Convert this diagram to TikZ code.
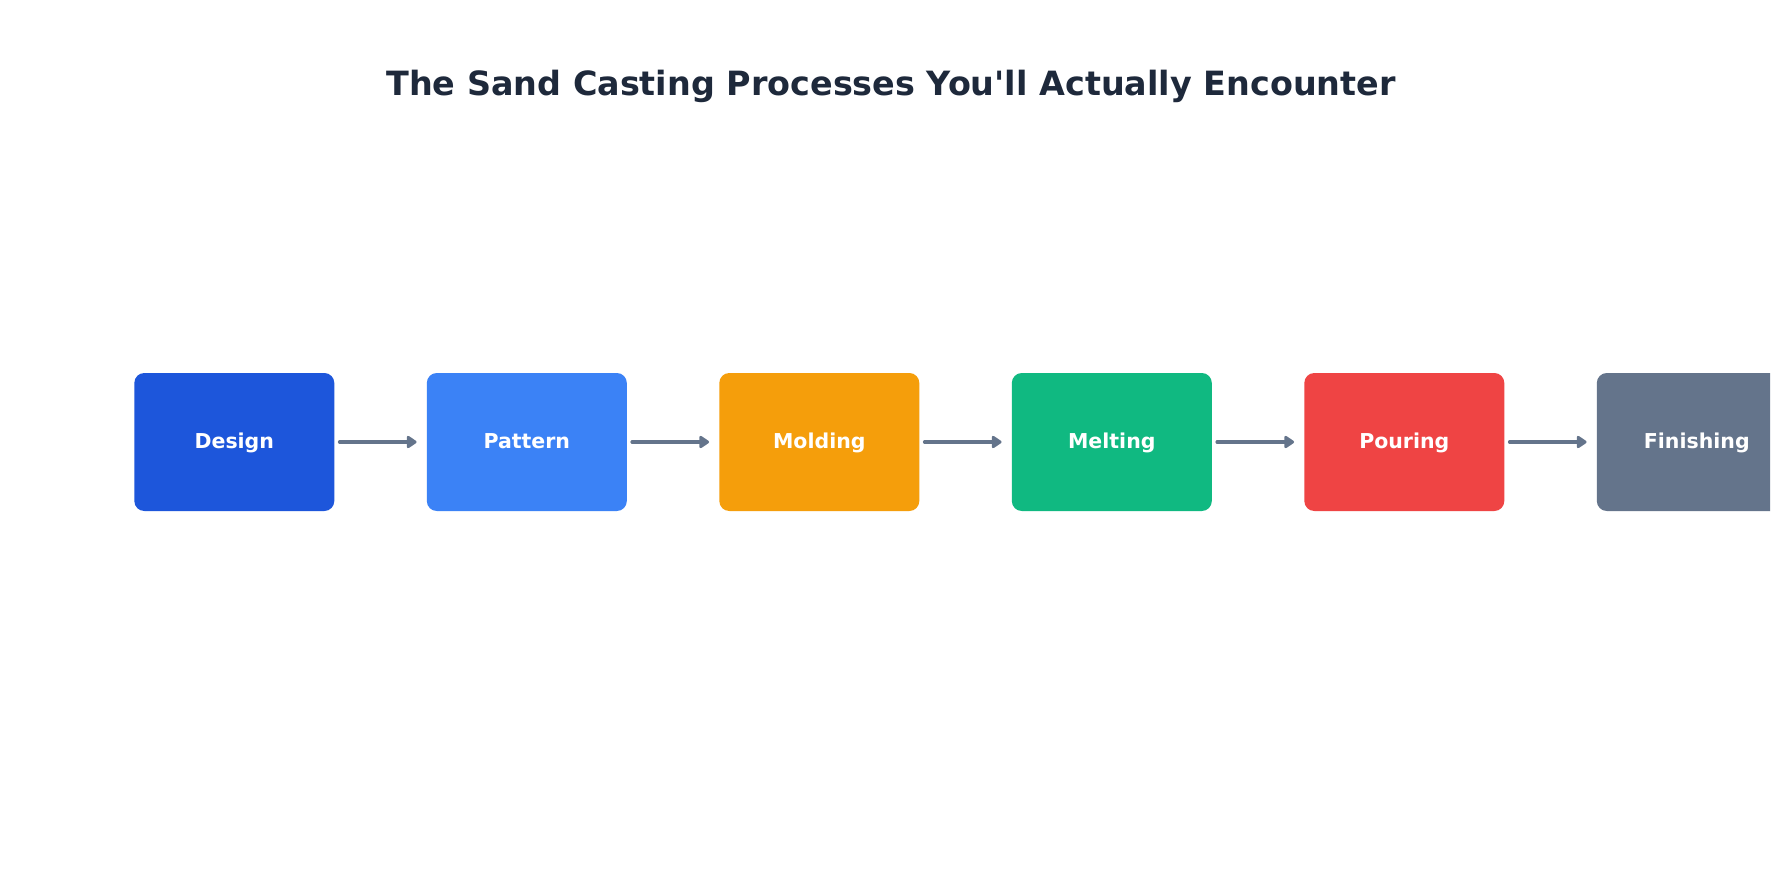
\documentclass[tikz,border=0pt]{standalone}
\usepackage{fontspec}
\setmainfont{DejaVu Sans}[Ligatures=TeXOff]
\usetikzlibrary{arrows.meta}
\definecolor{cDesign}{HTML}{1D56DB}
\definecolor{cPattern}{HTML}{3B82F6}
\definecolor{cMolding}{HTML}{F59E0B}
\definecolor{cMelting}{HTML}{10B981}
\definecolor{cPouring}{HTML}{EF4444}
\definecolor{cFinishing}{HTML}{64748B}
\definecolor{cArrow}{HTML}{64748B}
\definecolor{cTitle}{HTML}{1E293B}
\tikzset{
  procbox/.style={rounded corners=10pt, minimum width=200pt, minimum height=138pt,
    inner sep=0pt, text=white, font=\fontsize{20.5pt}{24pt}\selectfont\bfseries,
    text height=16pt, text depth=3.4pt, anchor=center},
  flowarrow/.style={draw=cArrow, line width=3.2pt, line cap=round,
    -{Triangle[round, length=11pt, width=14pt]}, shorten <=5pt, shorten >=10pt},
  titletext/.style={text=cTitle, font=\fontsize{33.4pt}{40pt}\selectfont\bfseries, inner sep=0pt, anchor=base}
}
\begin{document}
\begin{tikzpicture}[x=1pt,y=-1pt]
\useasboundingbox (0,0) rectangle (1785,885);
\fill[white] (0,0) rectangle (1785,885);
\node[titletext] (title) at (891,96) {The Sand Casting Processes You'll Actually Encounter};
\begin{scope}
\clip (0,0) rectangle (1770,885);
\node[procbox, fill=cDesign]    (design)    at (234.3,442) {Design};
\node[procbox, fill=cPattern]   (pattern)   at (526.8,442) {Pattern};
\node[procbox, fill=cMolding]   (molding)   at (819.3,442) {Molding};
\node[procbox, fill=cMelting]   (melting)   at (1111.8,442) {Melting};
\node[procbox, fill=cPouring]   (pouring)   at (1404.3,442) {Pouring};
\node[procbox, fill=cFinishing] (finishing) at (1696.8,442) {Finishing};
\end{scope}
\draw[flowarrow] (design) -- (pattern);
\draw[flowarrow] (pattern) -- (molding);
\draw[flowarrow] (molding) -- (melting);
\draw[flowarrow] (melting) -- (pouring);
\draw[flowarrow] (pouring) -- (finishing);
\end{tikzpicture}
\end{document}
